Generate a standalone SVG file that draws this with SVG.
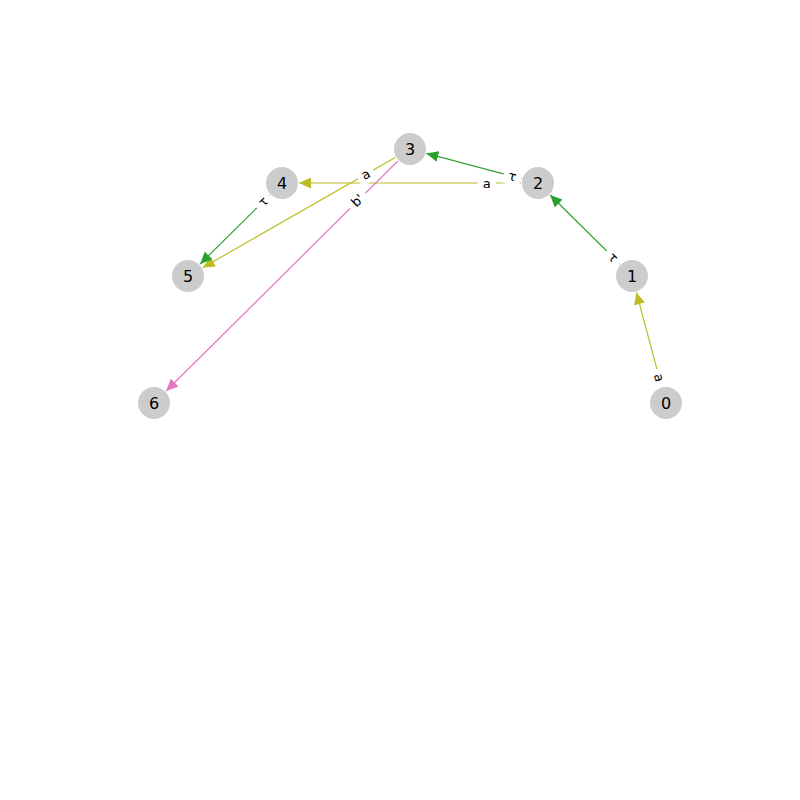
<svg xmlns="http://www.w3.org/2000/svg" width="800" height="800" viewBox="0 0 800 800">
<style>
.e{fill:none;stroke-width:1.2}
.ol{stroke:#bcbd22}
.gr{stroke:#2ca02c}
.pk{stroke:#e377c2}
.nd circle{fill:#cccccc}
.nd text{font-family:"DejaVu Sans",sans-serif;font-size:16px;fill:#000;text-anchor:middle;dominant-baseline:central}
.lb rect{fill:#fff}
.lb text{font-family:"DejaVu Sans",sans-serif;font-size:13px;fill:#000;text-anchor:middle;dominant-baseline:central}
</style>
<defs>
<marker id="aol" markerUnits="userSpaceOnUse" markerWidth="13" markerHeight="11" refX="12" refY="5.5" orient="auto"><path d="M0,0L12,5.5L0,11z" fill="#bcbd22"/></marker>
<marker id="agr" markerUnits="userSpaceOnUse" markerWidth="13" markerHeight="11" refX="12" refY="5.5" orient="auto"><path d="M0,0L12,5.5L0,11z" fill="#2ca02c"/></marker>
<marker id="apk" markerUnits="userSpaceOnUse" markerWidth="13" markerHeight="11" refX="12" refY="5.5" orient="auto"><path d="M0,0L12,5.5L0,11z" fill="#e377c2"/></marker>
</defs>
<rect width="800" height="800" fill="#fff"/>
<g id="edges">
<line class="e ol" x1="661.6" y1="386.6" x2="636.4" y2="292.4" marker-end="url(#aol)"/>
<line class="e gr" x1="619.9" y1="264.0" x2="550.1" y2="195.0" marker-end="url(#agr)"/>
<line class="e gr" x1="521.6" y1="178.6" x2="426.4" y2="153.4" marker-end="url(#agr)"/>
<line class="e ol" x1="521" y1="183" x2="299" y2="183" marker-end="url(#aol)"/>
<line class="e ol" x1="395.2" y1="157.4" x2="202.8" y2="267.6" marker-end="url(#aol)"/>
<line class="e gr" x1="269.9" y1="195.0" x2="200.1" y2="264.0" marker-end="url(#agr)"/>
<line class="e pk" x1="397.9" y1="161.0" x2="166.1" y2="391.0" marker-end="url(#apk)"/>
</g>
<g id="edge-labels" class="lb">
<g transform="translate(659.2,377.6) rotate(75)"><rect x="-9" y="-9" width="18" height="18" rx="3"/><text>a</text></g>
<g transform="translate(613.2,257.4) rotate(45)"><rect x="-9" y="-9" width="18" height="18" rx="3"/><text>τ</text></g>
<g transform="translate(512.4,176.2) rotate(15)"><rect x="-9" y="-9" width="18" height="18" rx="3"/><text>τ</text></g>
<g transform="translate(486.8,183)"><rect x="-9" y="-9" width="18" height="18" rx="3"/><text>a</text></g>
<g transform="translate(365.6,174.4) rotate(-29.8)"><rect x="-9" y="-9" width="18" height="18" rx="3"/><text>a</text></g>
<g transform="translate(263.2,201.6) rotate(-44.7)"><rect x="-9" y="-9" width="18" height="18" rx="3"/><text>τ</text></g>
<g transform="translate(357.5,200.5) rotate(-44.8)"><rect x="-11" y="-9" width="22" height="18" rx="3"/><text>b'</text></g>
</g>
<g id="n0" class="nd"><circle cx="666" cy="403" r="16"/><text x="666" y="403">0</text></g>
<g id="n1" class="nd"><circle cx="632" cy="276" r="16"/><text x="632" y="276">1</text></g>
<g id="n2" class="nd"><circle cx="538" cy="183" r="16"/><text x="538" y="183">2</text></g>
<g id="n3" class="nd"><circle cx="410" cy="149" r="16"/><text x="410" y="149">3</text></g>
<g id="n4" class="nd"><circle cx="282" cy="183" r="16"/><text x="282" y="183">4</text></g>
<g id="n5" class="nd"><circle cx="188" cy="276" r="16"/><text x="188" y="276">5</text></g>
<g id="n6" class="nd"><circle cx="154" cy="403" r="16"/><text x="154" y="403">6</text></g>
</svg>
